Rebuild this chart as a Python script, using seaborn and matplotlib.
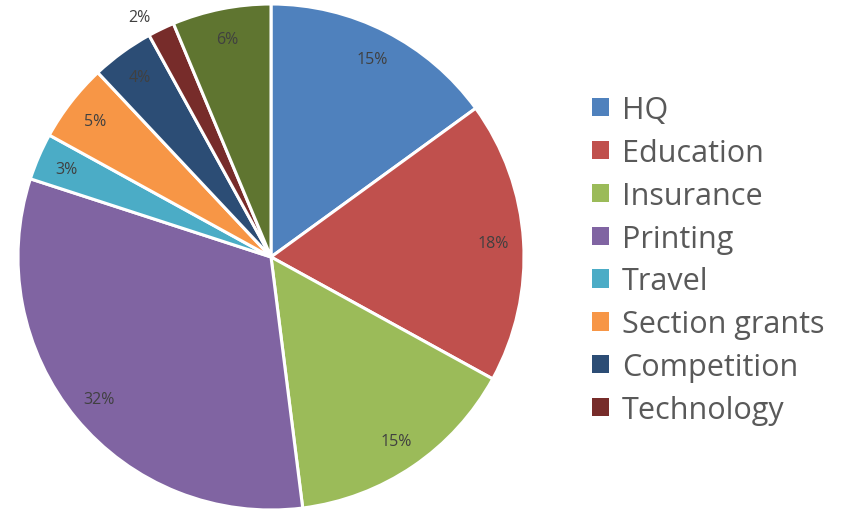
import numpy as np
import matplotlib
matplotlib.use("Agg")
import matplotlib.pyplot as plt
import seaborn as sns

categories = ["HQ", "Education", "Insurance", "Printing", "Travel",
              "Section grants", "Competition", "Technology", "Other"]
shares = [15, 18, 15, 32, 3, 5, 4, 1.7, 6.3]
colors = ["#4F81BD", "#C0504D", "#9BBB59", "#8064A2", "#4BACC6",
          "#F79646", "#2C4D75", "#772C2A", "#5F7530"]
legend_items = categories[:8]

sns.set_theme(style="white")
plt.rcParams['font.family'] = ['Open Sans', 'DejaVu Sans']

fig = plt.figure(figsize=(8.46, 5.10), dpi=100)
R = 253
ax = fig.add_axes([(271 - R) / 846, (510 - 258 - R) / 510, 2 * R / 846, 2 * R / 510])

wedges, texts, autotexts = ax.pie(
    shares, colors=colors, startangle=90, counterclock=False,
    autopct=lambda p: f"{p:.0f}%", pctdistance=0.88,
    wedgeprops=dict(edgecolor="white", linewidth=2.2),
    textprops=dict(color="#404040", fontsize=11.5))

# the small technology slice gets its label outside
tech = categories.index("Technology")
w = wedges[tech]
ang = np.deg2rad((w.theta1 + w.theta2) / 2 + 3)
autotexts[tech].set_position((1.08 * np.cos(ang), 1.08 * np.sin(ang)))
ax.set_aspect("equal")
ax.set_xlim(-1, 1)
ax.set_ylim(-1, 1)
ax.axis("off")

leg = fig.legend(wedges[:8], legend_items, loc="center left",
                 bbox_to_anchor=(577 / 846, 1 - 261 / 510), frameon=False,
                 fontsize=22, handlelength=0.55, handleheight=0.55,
                 handletextpad=0.42, labelspacing=0.42, borderpad=0)
for t in leg.get_texts():
    t.set_color("#595959")
for h in leg.legend_handles:
    h.set_linewidth(0)

fig.savefig("out.png", dpi=100)
